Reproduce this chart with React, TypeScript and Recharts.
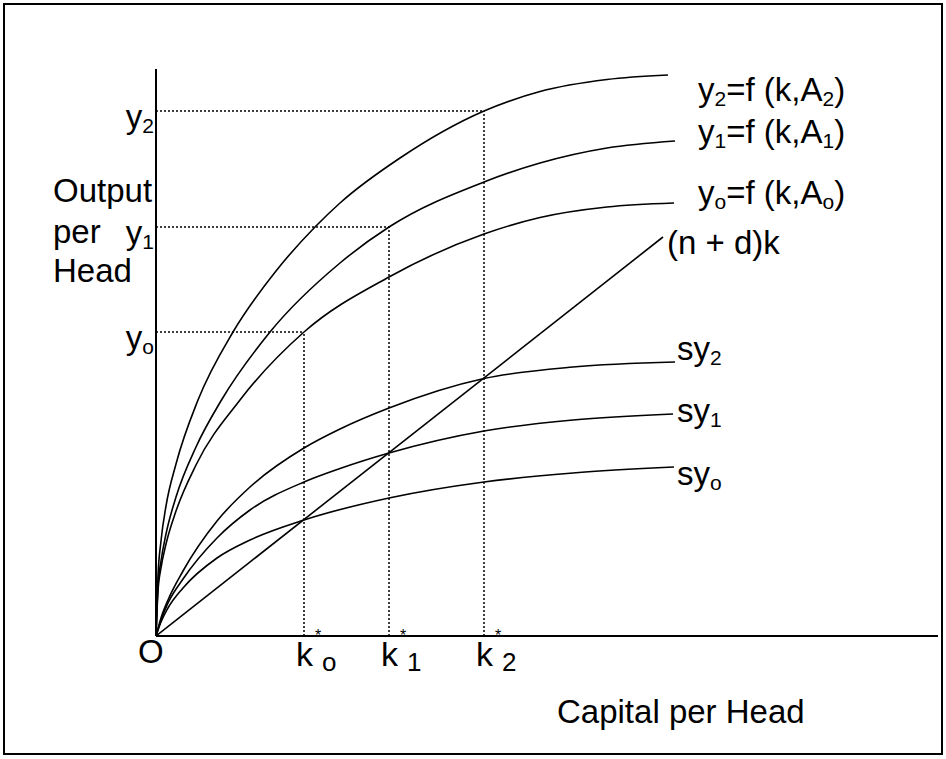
import React from 'react';
import { LineChart, Line, XAxis, YAxis, ReferenceLine } from 'recharts';

// steady-state capital and output levels (o, 1, 2)
const kStar = [29.6, 46.6, 65.6];
const yStar = [60.8, 81.8, 105];
const subs = ['o', '1', '2'];

// production functions y = f(k, A)
const y2K = [0, 0.4, 1, 2, 4, 8.4, 15.4, 24, 31.8, 36.8, 48.8, 65.6, 76.8, 90.2, 102.4];
const y2V = [0, 12, 19, 26, 34.4, 47.2, 60.8, 73, 81.8, 86.6, 95.6, 105, 108.9, 111.3, 112.2];
const y1K = [0, 0.4, 1, 2, 4, 8, 13.1, 22.8, 36.8, 46.6, 65.6, 76.8, 90.2, 103.8];
const y1V = [0, 10, 15, 20.4, 27.8, 37.8, 47.2, 60.8, 74.6, 81.8, 90.8, 94.6, 97.6, 99];
const yoK = [0, 0.4, 1, 2, 4, 8, 16.8, 29.6, 46.6, 65.6, 76.8, 90.2, 103.6];
const yoV = [0, 9, 13.6, 18.4, 25, 34.2, 47.2, 60.8, 71.8, 80.4, 83.7, 85.8, 86.6];

// savings curves sy
const sy2K = [0, 1, 2.4, 5.4, 12.2, 18.8, 29.6, 36.8, 46.6, 65.6, 83.4, 103.8];
const sy2V = [0, 3.6, 7.2, 13, 23, 29.8, 37.6, 41.4, 45.6, 51.5, 53.8, 54.8];
const sy1K = [0, 1, 2.4, 5.4, 12.2, 18.8, 29.6, 36.8, 46.6, 65.6, 83.4, 103.4];
const sy1V = [0, 3.2, 6.6, 11.4, 19.6, 25.2, 30.8, 33.5, 36.6, 41, 43.2, 44.4];
const syoK = [0, 1, 2.4, 5.4, 12.2, 18.8, 29.6, 46.6, 65.6, 83.4, 103.6];
const syoV = [0, 2.8, 5.6, 9.6, 15.6, 19.2, 23.2, 27.6, 30.8, 32.6, 33.8];

// break-even line (n + d)k
const lineK = [0, 101.4];
const lineV = [0, 79.8];

const zip = (ks: number[], vs: number[]) => ks.map((k, i) => ({ k, y: vs[i] }));

const series = [
  zip(y2K, y2V),
  zip(y1K, y1V),
  zip(yoK, yoV),
  zip(sy2K, sy2V),
  zip(sy1K, sy1V),
  zip(syoK, syoV),
  zip(lineK, lineV),
];

const FONT = '"Liberation Sans", Arial, sans-serif';
const FS = 33;
const SUB = 21;

const YTick = (props: any) => {
  const { x, y, index } = props;
  return (
    <text x={x - 2} y={y + 17} textAnchor="end" fontFamily={FONT} fontSize={FS} fill="#000">
      y
      <tspan fontSize={SUB} dy={5}>{subs[index]}</tspan>
    </text>
  );
};

const XTick = (props: any) => {
  const { x, y, index } = props;
  return (
    <g fontFamily={FONT}>
      <text x={x - 8} y={y + 30} fontSize={34} fill="#000">k</text>
      <text x={x + 14} y={y + 5} fontSize={16} textAnchor="middle" fill="#000">*</text>
      <text x={x + 18} y={y + 35} fontSize={26} fill="#000">{subs[index]}</text>
    </g>
  );
};

const FLabel = ({ y, sub }: { y: number; sub: string }) => (
  <text x={698} y={y} fontFamily={FONT} fontSize={FS} fill="#000">
    y
    <tspan fontSize={SUB} dy={5}>{sub}</tspan>
    <tspan dy={-5}>=f (k,A</tspan>
    <tspan fontSize={SUB} dy={5}>{sub}</tspan>
    <tspan dy={-5}>)</tspan>
  </text>
);

const SyLabel = ({ y, sub }: { y: number; sub: string }) => (
  <text x={677} y={y} fontFamily={FONT} fontSize={FS} fill="#000">
    sy
    <tspan fontSize={SUB} dy={5}>{sub}</tspan>
  </text>
);

export default function App() {
  const dot = { stroke: '#000', strokeDasharray: '2 2', strokeWidth: 1.5 };
  return (
    <div style={{ position: 'absolute', left: 0, top: 0, width: 946, height: 759, background: '#fff' }}>
      <div
        style={{
          position: 'absolute',
          left: 3,
          top: 3,
          width: 940,
          height: 752,
          border: '2px solid #000',
          boxSizing: 'border-box',
        }}
      />
      <div style={{ position: 'absolute', left: 0, top: 0 }}>
        <LineChart width={946} height={759} margin={{ top: 69, right: 8, bottom: 93, left: 96 }}>
          <XAxis
            type="number"
            dataKey="k"
            domain={[0, 156.4]}
            ticks={kStar}
            tick={<XTick />}
            tickLine={false}
            tickSize={0}
            tickMargin={0}
            height={30}
            axisLine={{ stroke: '#000', strokeWidth: 2 }}
            allowDataOverflow
            interval={0}
          />
          <YAxis
            type="number"
            domain={[0, 113.4]}
            ticks={yStar}
            tick={<YTick />}
            tickLine={false}
            tickSize={0}
            tickMargin={0}
            width={60}
            axisLine={{ stroke: '#000', strokeWidth: 2 }}
            allowDataOverflow
            interval={0}
          />
          {kStar.map((k, i) => (
            <ReferenceLine key={'h' + i} segment={[{ x: 0, y: yStar[i] }, { x: k, y: yStar[i] }]} {...dot} />
          ))}
          {kStar.map((k, i) => (
            <ReferenceLine key={'v' + i} segment={[{ x: k, y: 0 }, { x: k, y: yStar[i] }]} {...dot} />
          ))}
          {series.map((d, i) => (
            <Line
              key={i}
              data={d}
              dataKey="y"
              type={i === 6 ? 'linear' : 'monotone'}
              stroke="#000"
              strokeWidth={1.6}
              dot={false}
              activeDot={false}
              isAnimationActive={false}
            />
          ))}
        </LineChart>
      </div>
      <svg width={946} height={759} style={{ position: 'absolute', left: 0, top: 0, pointerEvents: 'none' }}>
        <g fontFamily={FONT} fontSize={FS} fill="#000">
          <text x={53} y={202}>Output</text>
          <text x={53} y={243}>per</text>
          <text x={53} y={282}>Head</text>
          <text x={138} y={663}>O</text>
          <text x={557} y={723}>Capital per Head</text>
          <text x={667} y={254}>(n + d)k</text>
        </g>
        <FLabel y={101} sub="2" />
        <FLabel y={143} sub="1" />
        <FLabel y={204} sub="o" />
        <SyLabel y={360} sub="2" />
        <SyLabel y={422} sub="1" />
        <SyLabel y={485} sub="o" />
      </svg>
    </div>
  );
}
